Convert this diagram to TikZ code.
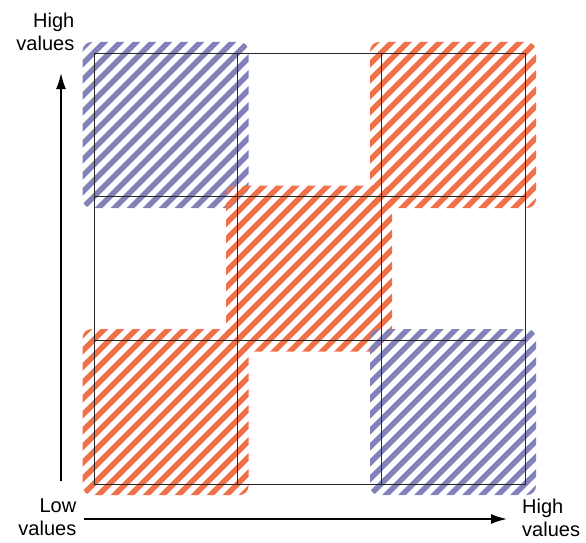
\documentclass[tikz,border=0pt]{standalone}
\usepackage{fontspec}
\setmainfont{Liberation Sans}
\usetikzlibrary{arrows.meta}
\definecolor{hatchblue}{RGB}{130,130,186}
\definecolor{hatchred}{RGB}{240,112,72}
\definecolor{gridgray}{RGB}{40,40,40}
\begin{document}
\begin{tikzpicture}[x=1pt, y=-1pt,
hatchbox/.style={
        minimum size=166pt,
        inner sep=0pt,
        rounded corners=9pt,
        path picture={
            \foreach \c in {-256,-240,...,256}
                \draw[#1, line width=5.5pt]
                    ([xshift=\c pt]path picture bounding box.center)
                    ++(-120pt,-120pt) -- ++(240pt,240pt);
        },
    },
cell/.style={
        draw=gridgray,
        line width=0.8pt,
        minimum size=143.67pt,
        inner sep=0pt,
    },
label/.style={
        inner sep=0pt,
        font=\fontsize{20}{23}\selectfont,
    },
axis/.style={
        line width=1.8pt,
        -{Latex[length=16pt,width=10pt]},
    },
]
\useasboundingbox (0,0) rectangle (586,543);

% hatched blocks
\node[hatchbox=hatchblue] (topleft) at (165.5,125) {};
\node[hatchbox=hatchred] (topright) at (453,125) {};
\node[hatchbox=hatchred] (middle) at (309,268.5) {};
\node[hatchbox=hatchred] (bottomleft) at (165.5,412) {};
\node[hatchbox=hatchblue] (bottomright) at (453,412) {};

% 3x3 grid
\foreach \i in {0,1,2}
    \foreach \j in {0,1,2}
        \node[cell] (cell\i\j) at (165.84+143.67*\i, 124.84+143.67*\j) {};

% axes
\coordinate (ystart) at (61,481);
\coordinate (yend) at (61,73);
\coordinate (xstart) at (84,519);
\coordinate (xend) at (507,519);
\draw[axis] (ystart) -- (yend);
\draw[axis] (xstart) -- (xend);

\node[label, align=right, anchor=north east] (highy) at (74.5,13) {High\\values};
\node[label, align=right, anchor=north east] (low) at (76.5,499) {Low\\values};
\node[label, align=left, anchor=north west] (highx) at (522,499) {High\\values};
\end{tikzpicture}
\end{document}
